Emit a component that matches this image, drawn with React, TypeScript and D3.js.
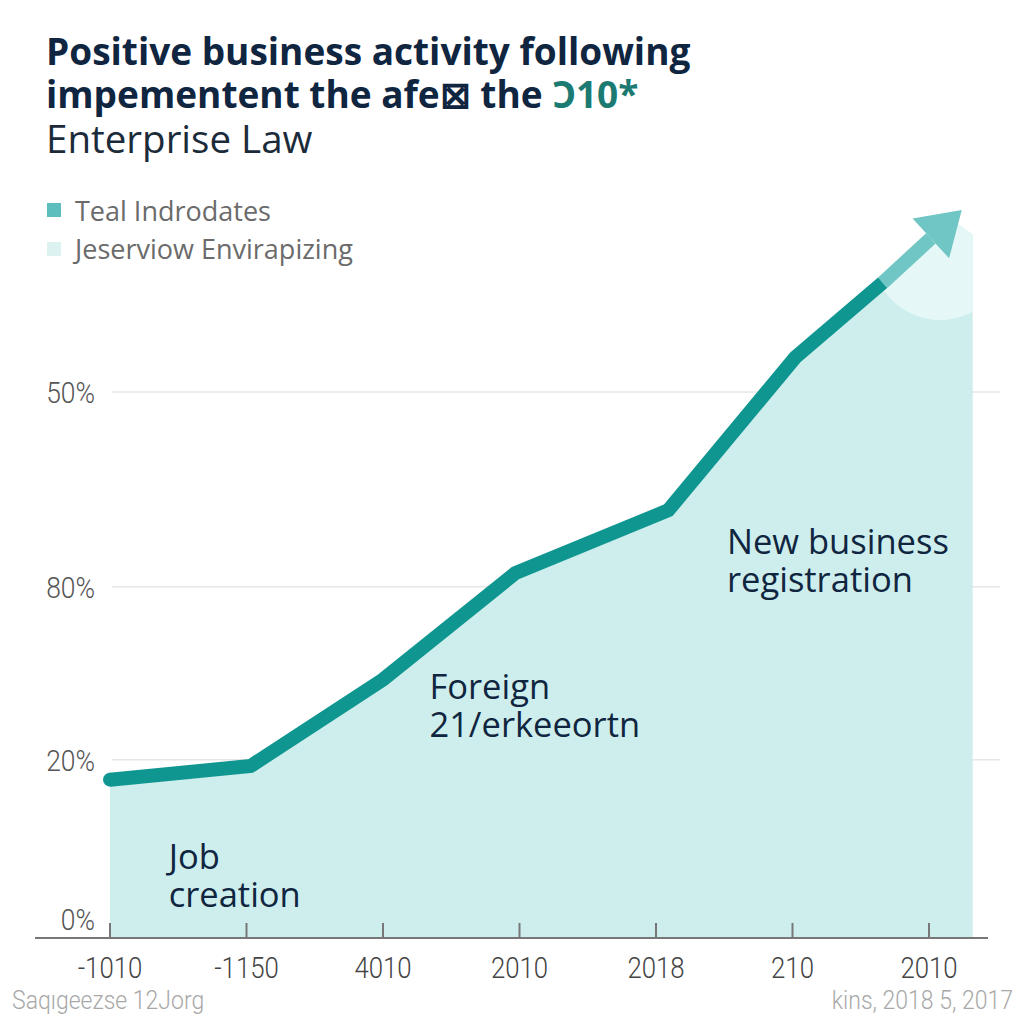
import React from "react";
import * as d3 from "d3";

// ---- data ----
const xTickLabels = ["-1010", "-1150", "4010", "2010", "2018", "210", "2010"];
const xTickPositions = [0, 1, 2, 3, 4, 5, 6];
const yTickLabels = ["0%", "20%", "80%", "50%"];
const yTickPositions = [0, 19.6, 38.6, 60];
const lineX = [0, 1.03, 2.0, 2.97, 4.09, 5.02, 5.66];
const lineY = [17.4, 18.9, 28.4, 40.1, 47.0, 63.8, 72.0];
const arrowTip = { x: 6.24, y: 80.0 };
const fillExtraX = [6.2, 6.32, 6.32];
const fillExtraY = [78.6, 77.3, 0];
const legendLabels = ["Teal Indrodates", "Jeserviow Envirapizing"];
const annotations = [
  { lines: ["Job", "creation"], x: 0.43, y: 7.6 },
  { lines: ["Foreign", "21/erkeeortn"], x: 2.34, y: 26.3 },
  { lines: ["New business", "registration"], x: 4.52, y: 42.2 },
];

const W = 1024;
const H = 1024;

export default function App() {
  const x = d3.scaleLinear().domain([0, 6]).range([110, 929]);
  const y = d3.scaleLinear().domain([0, 60]).range([938, 392]);

  const pts: [number, number][] = lineX.map((v, i) => [v, lineY[i]]);
  const line = d3
    .line<[number, number]>()
    .x((d) => x(d[0]))
    .y((d) => y(d[1]));

  const fillPts: [number, number][] = [
    ...pts,
    ...fillExtraX.map((v, i) => [v, fillExtraY[i]] as [number, number]),
    [0, 0],
  ];
  const fillPath = line(fillPts) + "Z";

  // arrow geometry
  const last = pts[pts.length - 1];
  const sx = x(last[0]);
  const sy = y(last[1]);
  const tx = x(arrowTip.x);
  const ty = y(arrowTip.y);
  const dx = tx - sx;
  const dy = ty - sy;
  const len = Math.hypot(dx, dy);
  const ux = dx / len;
  const uy = dy / len;
  const headLen = 42;
  const headHalf = 27;
  const bx = tx - ux * headLen;
  const by = ty - uy * headLen;
  const px = -uy;
  const py = ux;
  const head = `M${tx},${ty}L${bx + px * headHalf},${by + py * headHalf}L${bx - px * headHalf},${by - py * headHalf}Z`;

  const narrow = "'Roboto', 'Liberation Sans', sans-serif";
  const sans = "'Open Sans', 'Noto Sans', sans-serif";

  return (
    <svg width={W} height={H} viewBox={`0 0 ${W} ${H}`} style={{ position: "absolute", left: 0, top: 0, background: "#fff" }}>
      <defs>
        <clipPath id="fillClip">
          <path d={fillPath} />
        </clipPath>
      </defs>
      <rect x={0} y={0} width={W} height={H} fill="#ffffff" />

      {/* title */}
      <text x={46} y={65} fontFamily={sans} fontWeight={700} fontSize={37} fill="#0f2540">
        Positive business activity following
      </text>
      <text x={46} y={108} fontFamily={sans} fontWeight={700} fontSize={37} fill="#0f2540">
        impementent the afe⊠ the <tspan fill="#1b7a72">Ͻ10*</tspan>
      </text>
      <text x={46} y={153} fontFamily={sans} fontWeight={400} fontSize={38.5} fill="#1c2b3a">
        Enterprise Law
      </text>

      {/* legend */}
      <rect x={47} y={203} width={14} height={14} fill="#5cbfbe" />
      <text x={75} y={221} fontFamily={sans} fontSize={27} fill="#6b6b6b">
        {legendLabels[0]}
      </text>
      <rect x={47} y={242} width={14} height={14} fill="#dbf2f0" />
      <text x={75} y={259} fontFamily={sans} fontSize={27} fill="#6b6b6b">
        {legendLabels[1]}
      </text>

      {/* gridlines */}
      {yTickPositions.slice(1).map((v, i) => (
        <line key={i} x1={112} x2={1000} y1={y(v)} y2={y(v)} stroke="#e6e6e6" strokeWidth={1.5} />
      ))}

      {/* area */}
      <path d={fillPath} fill="#cdeeec" />
      <circle cx={940} cy={252} r={68} fill="#e5f8f7" clipPath="url(#fillClip)" />

      {/* arrow */}
      <line x1={sx} y1={sy} x2={bx} y2={by} stroke="#70c6c4" strokeWidth={14} />
      <path d={head} fill="#70c6c4" />

      {/* main line */}
      <path d={line(pts) || ""} fill="none" stroke="#0f9690" strokeWidth={14} strokeLinejoin="miter" strokeLinecap="butt" />
      <circle cx={x(pts[0][0])} cy={y(pts[0][1])} r={7} fill="#0f9690" />

      {/* y labels */}
      {yTickPositions.map((v, i) => (
        <text
          key={i}
          transform={`translate(95,${y(v) + (i === 0 ? -8 : 11)}) scale(0.88,1)`}
          textAnchor="end"
          fontFamily={narrow}
          fontWeight={300}
          fontSize={30}
          fill="#555"
        >
          {yTickLabels[i]}
        </text>
      ))}

      {/* x axis */}
      <line x1={35} x2={988} y1={938} y2={938} stroke="#777" strokeWidth={2} />
      {xTickPositions.map((v, i) => (
        <g key={i}>
          <line x1={x(v)} x2={x(v)} y1={923} y2={938} stroke="#777" strokeWidth={2} />
          <text
            transform={`translate(${x(v)},978) scale(0.86,1)`}
            textAnchor="middle"
            fontFamily={narrow}
            fontWeight={300}
            fontSize={30}
            fill="#444"
          >
            {xTickLabels[i]}
          </text>
        </g>
      ))}

      {/* annotations */}
      {annotations.map((a, i) => (
        <g key={i}>
          {a.lines.map((l, j) => (
            <text key={j} x={x(a.x)} y={y(a.y) + j * 38} fontFamily={sans} fontSize={34.5} fill="#0f2540">
              {l}
            </text>
          ))}
        </g>
      ))}

      {/* footer */}
      <text transform="translate(12,1009) scale(0.92,1)" fontFamily={narrow} fontWeight={300} fontSize={25} fill="#a8a8a8">
        Saqıgeezse 12Jorg
      </text>
      <text transform="translate(1013,1009) scale(0.92,1)" textAnchor="end" fontFamily={narrow} fontWeight={300} fontSize={25} fill="#a8a8a8">
        kins, 2018 5, 2017
      </text>
    </svg>
  );
}
